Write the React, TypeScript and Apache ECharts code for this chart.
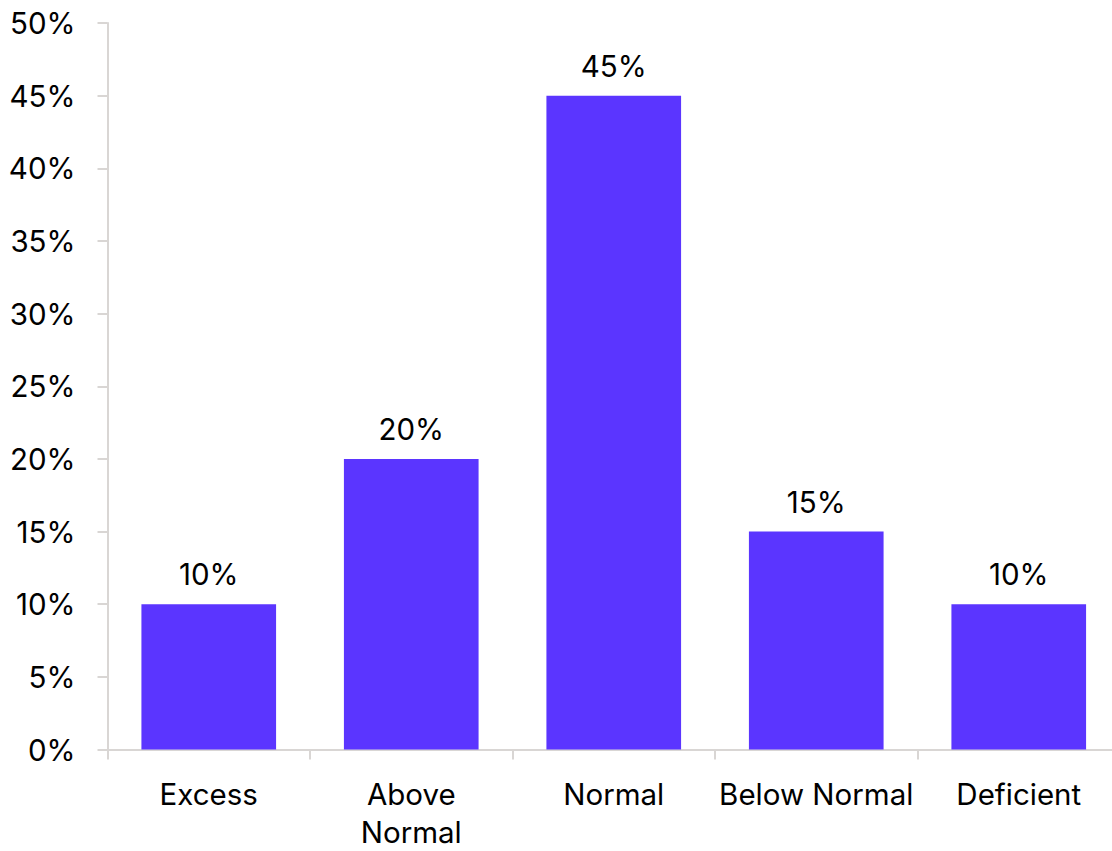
import React, { useEffect, useRef } from "react";
import * as echarts from "echarts";

const categories: string[] = ["Excess", "Above\nNormal", "Normal", "Below Normal", "Deficient"];
const values: number[] = [10, 20, 45, 15, 10];
const yTicks: number[] = [0, 5, 10, 15, 20, 25, 30, 35, 40, 45, 50];

const FONT = "Inter, 'Noto Sans', sans-serif";

export default function App() {
  const ref = useRef<HTMLDivElement>(null);
  useEffect(() => {
    if (!ref.current) return;
    const chart = echarts.init(ref.current, undefined, { renderer: "svg" });
    chart.setOption({
      animation: false,
      textStyle: { fontFamily: FONT },
      grid: {
        left: 107.5,
        top: 23,
        width: 1012.5,
        height: 726.5,
        containLabel: false,
        outerBoundsMode: "none",
      },
      xAxis: {
        type: "category",
        data: categories,
        axisLine: { show: true, lineStyle: { color: "#d9d6d4", width: 2 } },
        axisTick: { show: true, length: 10, lineStyle: { color: "#d9d6d4", width: 2 } },
        axisLabel: {
          color: "#000",
          fontSize: 29.5,
          fontFamily: FONT,
          margin: 25.5,
          lineHeight: 38,
          interval: 0,
        },
      },
      yAxis: {
        type: "value",
        min: yTicks[0],
        max: yTicks[yTicks.length - 1],
        interval: 5,
        splitLine: { show: false },
        axisLine: { show: true, lineStyle: { color: "#d9d6d4", width: 2 } },
        axisTick: { show: true, length: 10, lineStyle: { color: "#d9d6d4", width: 2 } },
        axisLabel: {
          color: "#000",
          fontSize: 29.5,
          fontFamily: FONT,
          margin: 32,
          formatter: (v: number) => `${v}%`,
        },
      },
      series: [
        {
          type: "bar",
          data: values,
          barCategoryGap: "33.5%",
          itemStyle: { color: "#5b35ff" },
          label: {
            show: true,
            position: "top",
            distance: 15,
            color: "#000",
            fontSize: 29.5,
            fontFamily: FONT,
            formatter: (p: any) => `${p.value}%`,
          },
        },
      ],
    });
    return () => chart.dispose();
  }, []);
  return (
    <div style={{ position: "absolute", left: 0, top: 0, width: 1112, height: 851, overflow: "hidden", background: "#fff" }}>
      <div ref={ref} style={{ width: 1130, height: 851 }} />
    </div>
  );
}
